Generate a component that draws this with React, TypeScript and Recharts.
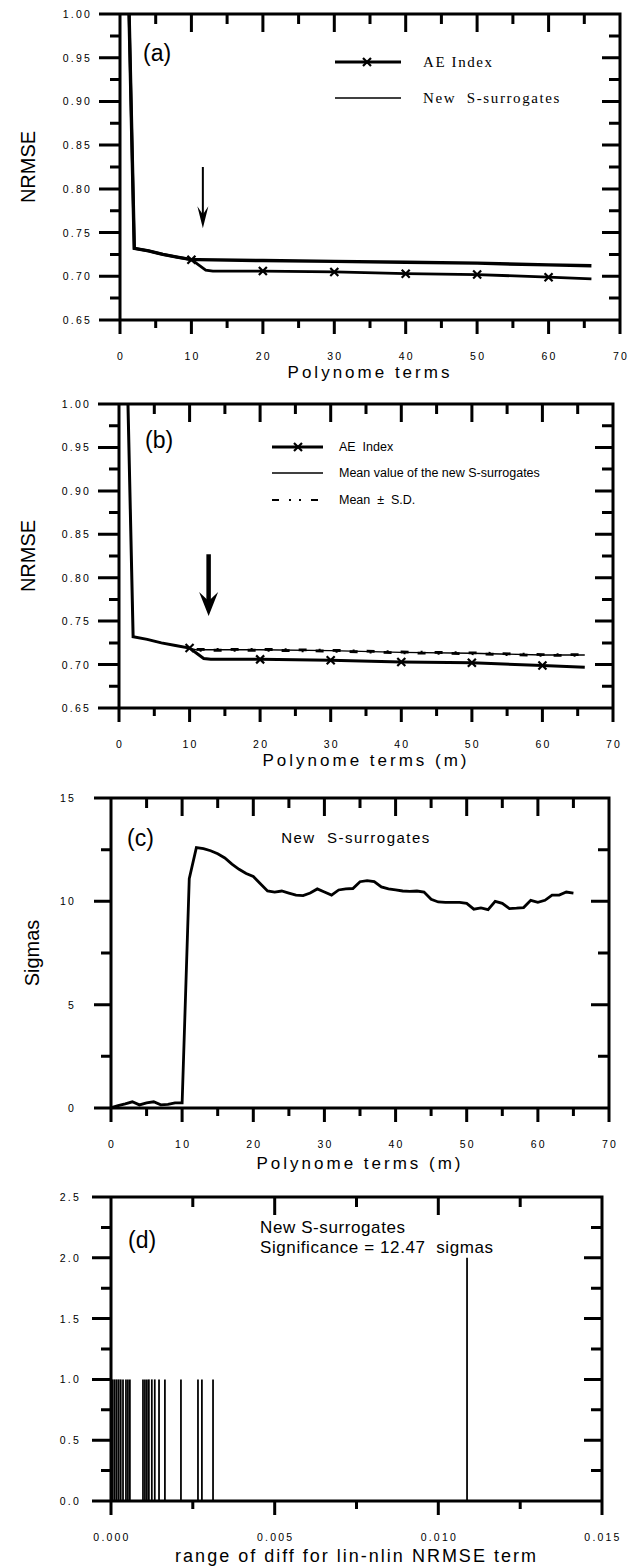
import {
  LineChart,
  Line,
  BarChart,
  Bar,
  XAxis,
  YAxis,
  ReferenceLine,
  Customized,
} from "recharts";

// ---- panel (a) / (b): NRMSE vs polynome terms ----
const M_AE = [1, 2, 4, 6, 8, 10, 11, 12, 13, 20, 30, 40, 50, 60, 66];
const NRMSE_AE = [1.1, 0.732, 0.729, 0.725, 0.722, 0.719, 0.713, 0.707, 0.706, 0.706, 0.705, 0.703, 0.702, 0.699, 0.697];
const M_AE_MARKED = [10, 20, 30, 40, 50, 60];

const M_SURR = [1, 2, 4, 6, 8, 10, 11, 20, 30, 40, 50, 60, 66];
const NRMSE_SURR_A = [1.1, 0.732, 0.729, 0.725, 0.722, 0.719, 0.719, 0.718, 0.717, 0.716, 0.715, 0.713, 0.712];
const NRMSE_SURR_MEAN_B = [1.1, 0.732, 0.729, 0.725, 0.722, 0.719, 0.717, 0.717, 0.716, 0.714, 0.713, 0.711, 0.711];

const M_SD = [11, 20, 30, 40, 50, 60, 66];
const NRMSE_PLUS_SD_B = [0.7175, 0.7175, 0.7165, 0.7145, 0.7135, 0.7115, 0.7115];
const NRMSE_MINUS_SD_B = [0.7165, 0.7165, 0.7155, 0.7135, 0.7125, 0.7105, 0.7105];

const ARROW_A = [{ x: 11.6, y: 0.825 }, { x: 11.6, y: 0.755 }];
const ARROW_B = [{ x: 12.7, y: 0.827 }, { x: 12.7, y: 0.756 }];

// ---- panel (c): significance in sigmas ----
const M_SIGMA = [
  0, 1, 2, 3, 4, 5, 6, 7, 8, 9, 10, 11, 12, 13, 14, 15, 16, 17, 18, 19, 20, 21, 22,
  23, 24, 25, 26, 27, 28, 29, 30, 31, 32, 33, 34, 35, 36, 37, 38, 39, 40, 41, 42, 43,
  44, 45, 46, 47, 48, 49, 50, 51, 52, 53, 54, 55, 56, 57, 58, 59, 60, 61, 62, 63, 64, 65,
];
const SIGMAS = [
  0.02, 0.12, 0.2, 0.3, 0.15, 0.25, 0.3, 0.15, 0.18, 0.25, 0.25, 11.1, 12.6, 12.55,
  12.45, 12.3, 12.1, 11.8, 11.55, 11.35, 11.2, 10.85, 10.5, 10.45, 10.5, 10.4, 10.3,
  10.28, 10.4, 10.6, 10.45, 10.3, 10.55, 10.6, 10.62, 10.95, 11.0, 10.95, 10.7, 10.6,
  10.55, 10.5, 10.48, 10.5, 10.45, 10.1, 9.97, 9.95, 9.95, 9.95, 9.9, 9.62, 9.68, 9.6,
  10.0, 9.9, 9.65, 9.67, 9.7, 10.05, 9.95, 10.05, 10.3, 10.3, 10.45, 10.4,
];

// ---- panel (d): distribution of lin-nlin NRMSE differences ----
const DIFF_BINS = [
  0, 0.00006, 0.00012, 0.00018, 0.00024, 0.0003, 0.00037, 0.00046, 0.00052, 0.00058,
  0.00098, 0.00104, 0.0011, 0.00116, 0.00125, 0.00134, 0.00147, 0.00165, 0.00214,
  0.00266, 0.00278, 0.00312, 0.01088,
];
const DIFF_COUNTS = [1, 1, 1, 1, 1, 1, 1, 1, 1, 1, 1, 1, 1, 1, 1, 1, 1, 1, 1, 1, 1, 1, 2];

// ---- axis ticks ----
const M_TICKS = [0, 5, 10, 15, 20, 25, 30, 35, 40, 45, 50, 55, 60, 65, 70];
const M_MAJOR = [0, 10, 20, 30, 40, 50, 60, 70];
const NRMSE_TICKS = [0.65, 0.675, 0.7, 0.725, 0.75, 0.775, 0.8, 0.825, 0.85, 0.875, 0.9, 0.925, 0.95, 0.975, 1.0];
const NRMSE_MAJOR = [0.65, 0.7, 0.75, 0.8, 0.85, 0.9, 0.95, 1.0];
const SIGMA_TICKS = [0, 2.5, 5, 7.5, 10, 12.5, 15];
const SIGMA_MAJOR = [0, 5, 10, 15];
const DIFF_TICKS = [0, 0.0025, 0.005, 0.0075, 0.01, 0.0125, 0.015];
const DIFF_MAJOR = [0, 0.005, 0.01, 0.015];
const COUNT_TICKS = [0, 0.25, 0.5, 0.75, 1, 1.25, 1.5, 1.75, 2, 2.25, 2.5];
const COUNT_MAJOR = [0, 0.5, 1, 1.5, 2, 2.5];

const rows = (xs: number[], ys: number[]) => xs.map((m, i) => ({ m, v: ys[i] }));

const INK = "#000";
const SANS = "'Liberation Sans', Arial, Helvetica, sans-serif";
const SERIF = "'Liberation Serif', 'Times New Roman', serif";
const TICK_FONT = { fontFamily: SANS, fontSize: 10.5, letterSpacing: 2.2, fill: INK };

const near = (v: number, list: number[]) => list.some((t) => Math.abs(t - v) < 1e-9);

// plot boxes inside each chart, these also drive the chart margins
type Box = { left: number; right: number; top: number; bottom: number; width: number; height: number };
const BOX_A: Box = { left: 120, right: 620, top: 14, bottom: 320, width: 633, height: 385 };
const BOX_B: Box = { left: 119, right: 613, top: 14, bottom: 318, width: 633, height: 383 };
const BOX_C: Box = { left: 111, right: 609, top: 18, bottom: 328, width: 633, height: 393 };
const BOX_D: Box = { left: 111, right: 602, top: 17, bottom: 321, width: 633, height: 386 };
const marginOf = (b: Box) => ({ top: b.top, right: b.width - b.right, bottom: 0, left: 0 });

const lin = (v: number, d: number[], r0: number, r1: number) => r0 + ((v - d[0]) / (d[d.length - 1] - d[0])) * (r1 - r0);
const r1 = (v: number) => Math.round(v * 10) / 10;

// frame outline plus ticks in one path: inward on top/right, outward on bottom/left
function Frame(props: { box: Box; xTicks: number[]; xMajor: number[]; yTicks: number[]; yMajor: number[]; leftLen: number }) {
  const { box, xTicks, xMajor, yTicks, yMajor, leftLen } = props;
  let d = `M${box.left},${box.top}H${box.right}V${box.bottom}H${box.left}Z`;
  xTicks.forEach((v) => {
    const x = r1(lin(v, xTicks, box.left, box.right));
    const mj = near(v, xMajor);
    d += ` M${x},${box.bottom}V${box.bottom + (mj ? 14 : 8)}`;
    d += ` M${x},${box.top}V${box.top + (mj ? 18 : 10)}`;
  });
  yTicks.forEach((v) => {
    const y = r1(lin(v, yTicks, box.bottom, box.top));
    const mj = near(v, yMajor);
    d += ` M${box.left - (mj ? leftLen : 10)},${y}H${box.left}`;
    d += ` M${box.right - (mj ? 18 : 11)},${y}H${box.right}`;
  });
  return <path className="frame" d={d} fill="none" stroke={INK} strokeWidth={3} />;
}

// tick labels only; the tick marks come from <Frame>
function labelTick(side: "bottom" | "left", majors: number[], fmt: (v: number) => string, gap: number) {
  return (props: any) => {
    const { x, y, payload, index } = props;
    const v = payload.value;
    if (!near(v, majors)) return <g key={`l-${side}-${index}`} />;
    return side === "bottom" ? (
      <text key={`l-${side}-${index}`} x={x + 1} y={y + gap} textAnchor="middle" {...TICK_FONT}>
        {fmt(v)}
      </text>
    ) : (
      <text key={`l-${side}-${index}`} x={x - gap} y={y + 4} textAnchor="end" {...TICK_FONT}>
        {fmt(v)}
      </text>
    );
  };
}

type AxesOpts = {
  xTicks: number[];
  xMajor: number[];
  xFmt: (v: number) => string;
  yTicks: number[];
  yMajor: number[];
  yFmt: (v: number) => string;
  yWidth: number;
  yLabelGap: number;
  title: string;
  titleOffset: number;
  titleSize: number;
  titleSpacing: number;
};

function labelAxes(o: AxesOpts) {
  const common = {
    type: "number" as const,
    allowDataOverflow: true,
    interval: 0 as const,
    tickSize: 0,
    tickMargin: 0,
    tickLine: false,
    axisLine: false,
  };
  return [
    <XAxis
      key="xb"
      dataKey="m"
      {...common}
      domain={[o.xTicks[0], o.xTicks[o.xTicks.length - 1]]}
      ticks={o.xTicks}
      height={65}
      tick={labelTick("bottom", o.xMajor, o.xFmt, 40)}
      label={{
        value: o.title,
        position: "insideBottom",
        offset: o.titleOffset,
        fontFamily: SANS,
        fontSize: o.titleSize,
        letterSpacing: o.titleSpacing,
        fill: INK,
      }}
    />,
    <YAxis
      key="yl"
      {...common}
      domain={[o.yTicks[0], o.yTicks[o.yTicks.length - 1]]}
      ticks={o.yTicks}
      width={o.yWidth}
      tick={labelTick("left", o.yMajor, o.yFmt, o.yLabelGap)}
    />,
  ];
}

const crossDot = (props: any) => {
  const { cx, cy, payload, index } = props;
  if (!near(payload.m, M_AE_MARKED)) return <g key={`d-${index}`} />;
  const s = 4;
  return (
    <path
      key={`d-${index}`}
      d={`M${cx - s},${cy - s}L${cx + s},${cy + s}M${cx - s},${cy + s}L${cx + s},${cy - s}`}
      stroke={INK}
      strokeWidth={2.2}
      fill="none"
    />
  );
};

const arrow = (headW: number, headL: number, shaft: number) => (p: any) => {
  const { x1, y1, y2 } = p;
  const top = Math.min(y1, y2);
  const tip = Math.max(y1, y2);
  return (
    <g>
      <line x1={x1} y1={top} x2={x1} y2={tip - headL * 0.5} stroke={INK} strokeWidth={shaft} />
      <polygon
        points={`${x1},${tip} ${x1 - headW / 2},${tip - headL} ${x1},${tip - headL * 0.62} ${x1 + headW / 2},${tip - headL}`}
        fill={INK}
      />
    </g>
  );
};

const crossIcon = (x: number, y: number) => (
  <path d={`M${x - 4},${y - 4}L${x + 4},${y + 4}M${x - 4},${y + 4}L${x + 4},${y - 4}`} stroke={INK} strokeWidth={2.2} />
);

const panelLetter = (x: number, y: number, t: string) => (
  <text x={x} y={y} fontFamily={SANS} fontSize={23} fill={INK}>
    {t}
  </text>
);

const yTitle = (x: number, y: number, t: string) => (
  <text x={x} y={y} transform={`rotate(-90 ${x} ${y})`} textAnchor="middle" dominantBaseline="central" fontFamily={SANS} fontSize={20} fill={INK}>
    {t}
  </text>
);

const TextA = () => (
  <g>
    {panelLetter(143, 61, "(a)")}
    {yTitle(28, 167, "NRMSE")}
    <line x1={335} y1={62} x2={401} y2={62} stroke={INK} strokeWidth={2.8} />
    {crossIcon(367, 62)}
    <text x={423} y={67} fontFamily={SERIF} fontSize={15} letterSpacing={1.6} fill={INK}>
      AE Index
    </text>
    <line x1={335} y1={98} x2={401} y2={98} stroke={INK} strokeWidth={1.4} />
    <text x={423} y={103} fontFamily={SERIF} fontSize={15} letterSpacing={1.6} fill={INK} xmlSpace="preserve">
      New  S-surrogates
    </text>
  </g>
);

const TextB = () => (
  <g>
    {panelLetter(145, 58, "(b)")}
    {yTitle(28, 166, "NRMSE")}
    <line x1={272} y1={57} x2={323} y2={57} stroke={INK} strokeWidth={3} />
    {crossIcon(298, 57)}
    <text x={339} y={61} fontFamily={SANS} fontSize={12.5} fill={INK} xmlSpace="preserve">
      AE  Index
    </text>
    <line x1={272} y1={83} x2={323} y2={83} stroke={INK} strokeWidth={1.3} />
    <text x={339} y={87} fontFamily={SANS} fontSize={12.5} fill={INK}>
      Mean value of the new S-surrogates
    </text>
    <line x1={272} y1={110} x2={323} y2={110} stroke={INK} strokeWidth={2} strokeDasharray="7 10 2 8 2 10" />
    <text x={339} y={114} fontFamily={SANS} fontSize={12.5} fill={INK} xmlSpace="preserve">
      Mean  ±  S.D.
    </text>
  </g>
);

const TextC = () => (
  <g>
    {panelLetter(127, 66, "(c)")}
    {yTitle(32, 173, "Sigmas")}
    <text x={356} y={63} textAnchor="middle" fontFamily={SANS} fontSize={15} letterSpacing={1.5} fill={INK} xmlSpace="preserve">
      New  S-surrogates
    </text>
  </g>
);

const TextD = () => (
  <g>
    {panelLetter(128, 68, "(d)")}
    <text x={260} y={53} fontFamily={SANS} fontSize={17} letterSpacing={0.6} fill={INK}>
      New S-surrogates
    </text>
    <text x={260} y={73} fontFamily={SANS} fontSize={17} letterSpacing={0.6} fill={INK} xmlSpace="preserve">
      Significance = 12.47  sigmas
    </text>
  </g>
);

const fmt2 = (v: number) => v.toFixed(2);
const fmtInt = (v: number) => String(v);

export default function App() {
  const ae = rows(M_AE, NRMSE_AE);
  const surrA = rows(M_SURR, NRMSE_SURR_A);
  const meanB = rows(M_SURR, NRMSE_SURR_MEAN_B);
  const plusB = rows(M_SD, NRMSE_PLUS_SD_B);
  const minusB = rows(M_SD, NRMSE_MINUS_SD_B);
  const sigmas = rows(M_SIGMA, SIGMAS);
  const spikes = rows(DIFF_BINS, DIFF_COUNTS);

  const nrmseAxes = {
    xTicks: M_TICKS,
    xMajor: M_MAJOR,
    xFmt: fmtInt,
    yTicks: NRMSE_TICKS,
    yMajor: NRMSE_MAJOR,
    yFmt: fmt2,
    yLabelGap: 28,
    titleSize: 17,
    titleSpacing: 3,
    titleOffset: 7,
  };

  return (
    <div style={{ position: "absolute", left: 0, top: 0, width: 633, height: 1567, background: "#fff" }}>
      <div style={{ position: "absolute", left: 0, top: 0 }}>
        <LineChart width={BOX_A.width} height={BOX_A.height} margin={marginOf(BOX_A)}>
          {labelAxes({ ...nrmseAxes, yWidth: BOX_A.left, title: "Polynome terms" })}
          <Line data={surrA} dataKey="v" stroke={INK} strokeWidth={3.4} dot={false} isAnimationActive={false} />
          <Line data={ae} dataKey="v" stroke={INK} strokeWidth={2.8} dot={crossDot} isAnimationActive={false} />
          <ReferenceLine segment={ARROW_A} shape={arrow(11, 22, 2)} ifOverflow="visible" />
          <Customized component={<Frame box={BOX_A} xTicks={M_TICKS} xMajor={M_MAJOR} yTicks={NRMSE_TICKS} yMajor={NRMSE_MAJOR} leftLen={21} />} />
          <Customized component={<TextA />} />
        </LineChart>
      </div>

      <div style={{ position: "absolute", left: 0, top: 390 }}>
        <LineChart width={BOX_B.width} height={BOX_B.height} margin={marginOf(BOX_B)}>
          {labelAxes({ ...nrmseAxes, yWidth: BOX_B.left, title: "Polynome terms  (m)" })}
          <Line data={meanB} dataKey="v" stroke={INK} strokeWidth={1.4} dot={false} isAnimationActive={false} />
          <Line data={plusB} dataKey="v" stroke={INK} strokeWidth={2.8} strokeDasharray="8 12 2 12" dot={false} isAnimationActive={false} />
          <Line data={minusB} dataKey="v" stroke={INK} strokeWidth={2.8} strokeDasharray="8 12 2 12" strokeDashoffset={17} dot={false} isAnimationActive={false} />
          <Line data={ae} dataKey="v" stroke={INK} strokeWidth={3} dot={crossDot} isAnimationActive={false} />
          <ReferenceLine segment={ARROW_B} shape={arrow(19, 24, 4.5)} ifOverflow="visible" />
          <Customized component={<Frame box={BOX_B} xTicks={M_TICKS} xMajor={M_MAJOR} yTicks={NRMSE_TICKS} yMajor={NRMSE_MAJOR} leftLen={21} />} />
          <Customized component={<TextB />} />
        </LineChart>
      </div>

      <div style={{ position: "absolute", left: 0, top: 780 }}>
        <LineChart width={BOX_C.width} height={BOX_C.height} margin={marginOf(BOX_C)}>
          {labelAxes({
            xTicks: M_TICKS,
            xMajor: M_MAJOR,
            xFmt: fmtInt,
            yTicks: SIGMA_TICKS,
            yMajor: SIGMA_MAJOR,
            yFmt: fmtInt,
            yWidth: BOX_C.left,
            yLabelGap: 35,
            title: "Polynome terms  (m)",
            titleOffset: 4,
            titleSize: 17,
            titleSpacing: 3,
          })}
          <Line data={sigmas} dataKey="v" stroke={INK} strokeWidth={2.8} dot={false} isAnimationActive={false} />
          <Customized component={<Frame box={BOX_C} xTicks={M_TICKS} xMajor={M_MAJOR} yTicks={SIGMA_TICKS} yMajor={SIGMA_MAJOR} leftLen={17} />} />
          <Customized component={<TextC />} />
        </LineChart>
      </div>

      <div style={{ position: "absolute", left: 0, top: 1180 }}>
        <BarChart width={BOX_D.width} height={BOX_D.height} data={spikes} margin={marginOf(BOX_D)}>
          {labelAxes({
            xTicks: DIFF_TICKS,
            xMajor: DIFF_MAJOR,
            xFmt: (v) => v.toFixed(3),
            yTicks: COUNT_TICKS,
            yMajor: COUNT_MAJOR,
            yFmt: (v) => v.toFixed(1),
            yWidth: BOX_D.left,
            yLabelGap: 30,
            title: "range of diff for lin-nlin NRMSE term",
            titleOffset: 4,
            titleSize: 18,
            titleSpacing: 2,
          })}
          <Bar dataKey="v" fill={INK} barSize={2} isAnimationActive={false} />
          <Customized component={<Frame box={BOX_D} xTicks={DIFF_TICKS} xMajor={DIFF_MAJOR} yTicks={COUNT_TICKS} yMajor={COUNT_MAJOR} leftLen={19} />} />
          <Customized component={<TextD />} />
        </BarChart>
      </div>
    </div>
  );
}
